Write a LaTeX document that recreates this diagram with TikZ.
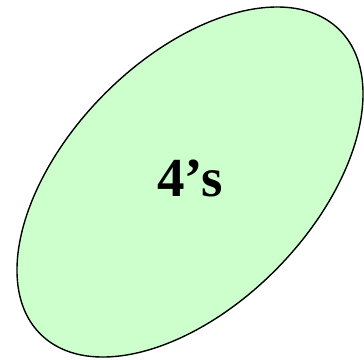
\documentclass[tikz,border=0pt]{standalone}
\usepackage{fontspec}
\setmainfont{Liberation Serif}
\usepackage{xcolor}
\usepackage{tikz}
\definecolor{paleGreen}{HTML}{CCFFCC}

\begin{document}
\begin{tikzpicture}[x=1pt,y=1pt, every node/.style={font=\fontsize{55}{60}\selectfont\bfseries}]
\useasboundingbox (0,0) rectangle (364,359);
\coordinate (c) at (190,177);
\draw[line width=1.4pt, fill=paleGreen, rotate around={45.65:(c)}] (c) ellipse [x radius=213.3, y radius=122.7];
\node (fours) at (190,181) {4's};
\end{tikzpicture}
\end{document}
